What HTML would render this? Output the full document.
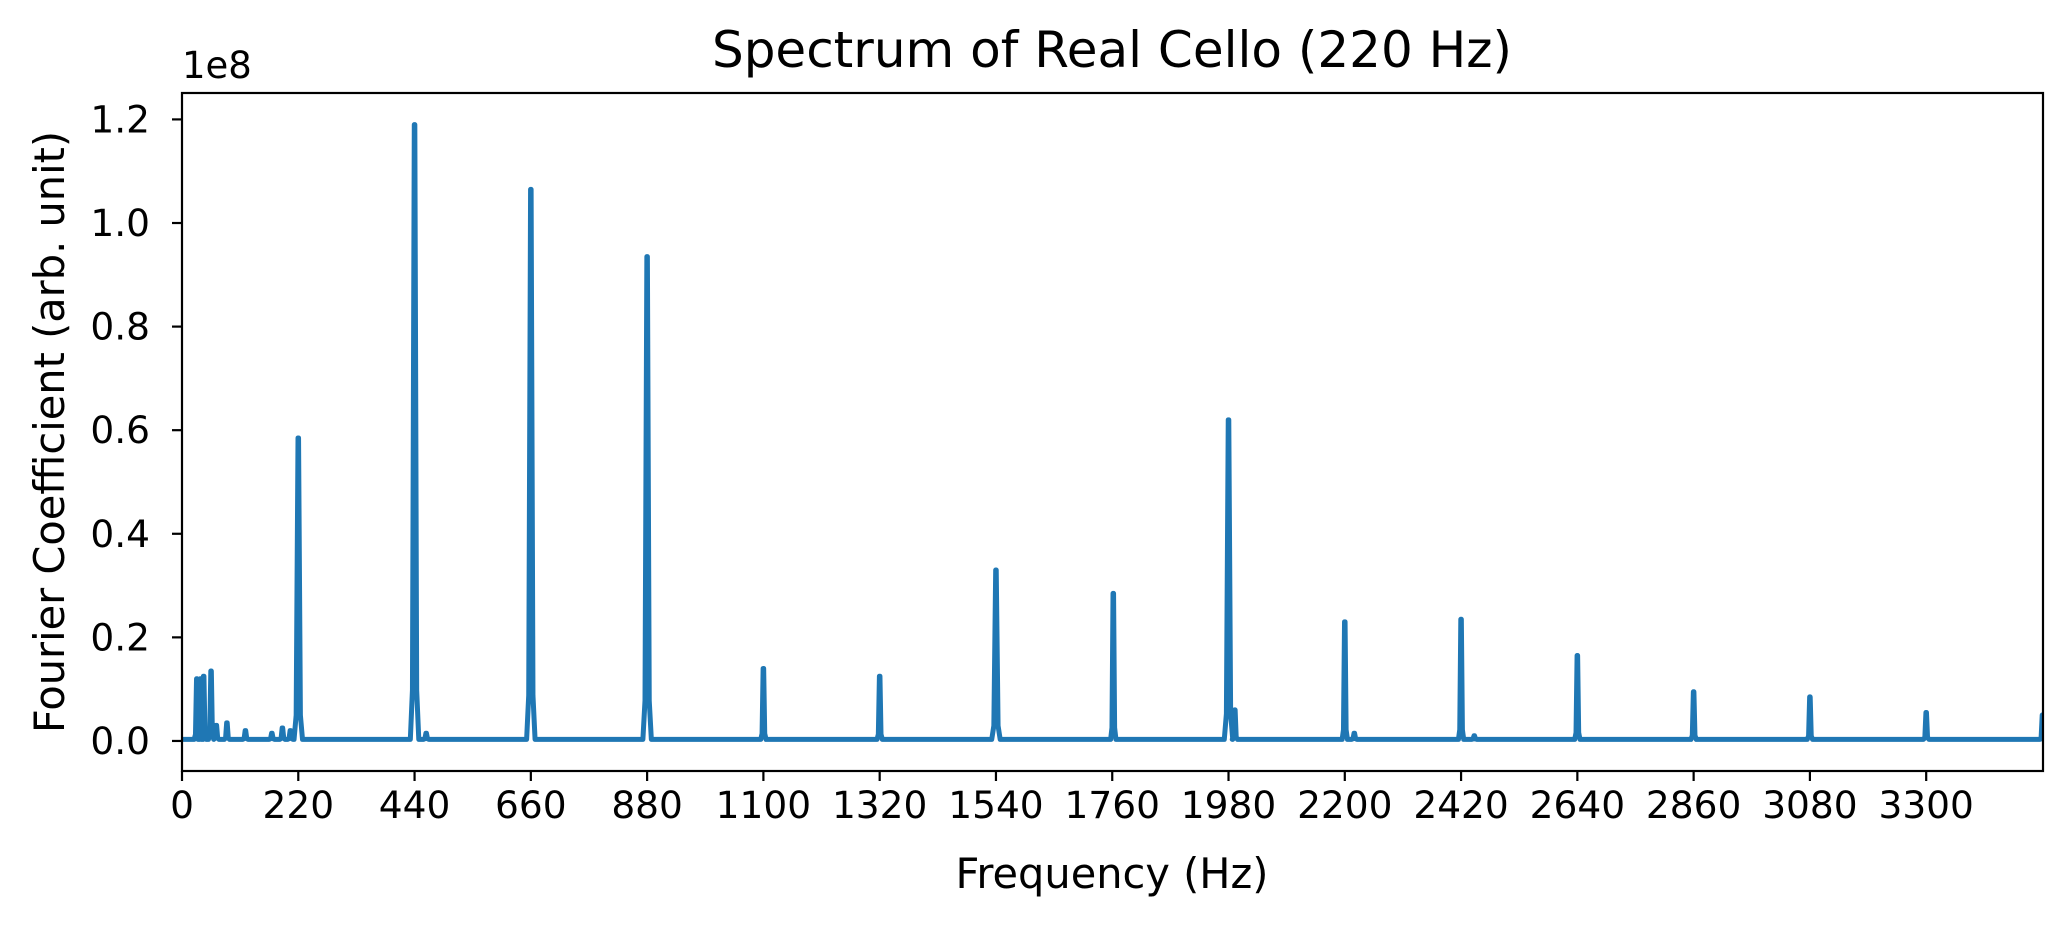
<!DOCTYPE html>
<html><head><meta charset="utf-8"><style>
html,body{margin:0;padding:0;background:#fff;}
svg{display:block;font-family:"DejaVu Sans","Liberation Sans",sans-serif;}
</style></head><body>
<svg id="chart" width="2072" height="928" viewBox="0 0 2072 928" xmlns="http://www.w3.org/2000/svg">
<rect x="0" y="0" width="2072" height="928" fill="#fff"/>
<text x="1112" y="67" font-size="50" text-anchor="middle" fill="#000">Spectrum of Real Cello (220 Hz)</text>
<text x="182" y="78" font-size="37" fill="#000">1e8</text>
<g id="plot"></g>
<g id="xticks"></g>
<g id="yticks"></g>
<rect x="182" y="93" width="1861" height="678" fill="none" stroke="#000" stroke-width="2.2"/>
<text x="1112" y="888" font-size="41.5" text-anchor="middle" fill="#000">Frequency (Hz)</text>
<text x="0" y="0" font-size="41.5" text-anchor="middle" fill="#000" transform="translate(64,432) rotate(-90)">Fourier Coefficient (arb. unit)</text>
</svg>
<script>
const peakFreqs = [28, 35, 41, 55, 65, 85, 120, 170, 190, 205, 220, 440, 462, 660, 880, 1100, 1320, 1540, 1762, 1980, 1992, 2200, 2218, 2420, 2445, 2640, 2860, 3080, 3300, 3520];
const peakAmps  = [0.12, 0.12, 0.125, 0.135, 0.03, 0.035, 0.02, 0.015, 0.025, 0.02, 0.585, 1.19, 0.015, 1.065, 0.935, 0.14, 0.125, 0.33, 0.285, 0.62, 0.06, 0.23, 0.015, 0.235, 0.01, 0.165, 0.095, 0.085, 0.055, 0.05];
const baseLevel = 0.003;
const xTicks = [0, 220, 440, 660, 880, 1100, 1320, 1540, 1760, 1980, 2200, 2420, 2640, 2860, 3080, 3300];
const yTicks = [0.0, 0.2, 0.4, 0.6, 0.8, 1.0, 1.2];
const yTickLabels = ["0.0", "0.2", "0.4", "0.6", "0.8", "1.0", "1.2"];

const L = 182, R = 2043, T = 93, B = 771;
const xMin = 0, xMax = 3521, yMin = -0.058, yMax = 1.251;
const sx = f => L + (f - xMin) / (xMax - xMin) * (R - L);
const sy = v => B - (v - yMin) / (yMax - yMin) * (B - T);
const NS = "http://www.w3.org/2000/svg";

const plot = document.getElementById('plot');
let d = `M${sx(0)},${sy(baseLevel)}`;
for (let i = 0; i < peakFreqs.length; i++) {
  const f = peakFreqs[i], a = peakAmps[i];
  const w = a > 0.3 ? 4 : 2.5;
  d += ` L${sx(f - w * 2)},${sy(baseLevel)} L${sx(f - w)},${sy(a * 0.08 + baseLevel)} L${sx(f - 0.5)},${sy(a)} L${sx(f + 0.5)},${sy(a)} L${sx(f + w)},${sy(a * 0.08 + baseLevel)} L${sx(f + w * 2)},${sy(baseLevel)}`;
}
d += ` L${sx(xMax)},${sy(baseLevel)}`;
const clip = document.createElementNS(NS, 'clipPath');
clip.setAttribute('id', 'clipA');
const cr = document.createElementNS(NS, 'rect');
cr.setAttribute('x', L); cr.setAttribute('y', T); cr.setAttribute('width', R - L); cr.setAttribute('height', B - T);
clip.appendChild(cr);
document.getElementById('chart').appendChild(clip);
const path = document.createElementNS(NS, 'path');
path.setAttribute('d', d);
path.setAttribute('fill', 'none');
path.setAttribute('stroke', '#1f77b4');
path.setAttribute('stroke-width', '5');
path.setAttribute('stroke-linejoin', 'round');
path.setAttribute('stroke-linecap', 'round');
path.setAttribute('clip-path', 'url(#clipA)');


plot.appendChild(path);

const xg = document.getElementById('xticks');
xTicks.forEach(v => {
  const x = sx(v);
  const ln = document.createElementNS(NS, 'line');
  ln.setAttribute('x1', x); ln.setAttribute('x2', x); ln.setAttribute('y1', B); ln.setAttribute('y2', B + 10);
  ln.setAttribute('stroke', '#000'); ln.setAttribute('stroke-width', '2.2');
  
  
  xg.appendChild(ln);
  const t = document.createElementNS(NS, 'text');
  t.setAttribute('x', x); t.setAttribute('y', 818);
  t.setAttribute('font-size', '37.5'); t.setAttribute('text-anchor', 'middle');
  t.textContent = String(v);
  
  
  xg.appendChild(t);
});

const yg = document.getElementById('yticks');
yTicks.forEach((v, i) => {
  const y = sy(v);
  const ln = document.createElementNS(NS, 'line');
  ln.setAttribute('x1', L - 10); ln.setAttribute('x2', L); ln.setAttribute('y1', y); ln.setAttribute('y2', y);
  ln.setAttribute('stroke', '#000'); ln.setAttribute('stroke-width', '2.2');
  
  
  yg.appendChild(ln);
  const t = document.createElementNS(NS, 'text');
  t.setAttribute('x', 150); t.setAttribute('y', y + 13);
  t.setAttribute('font-size', '37.5'); t.setAttribute('text-anchor', 'end');
  t.textContent = yTickLabels[i];
  
  
  yg.appendChild(t);
});
</script>
</body></html>
